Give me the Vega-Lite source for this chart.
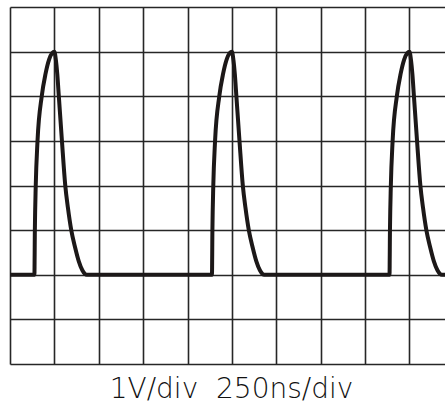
{
  "$schema": "https://vega.github.io/schema/vega-lite/v6.json",
  "width": 435,
  "height": 357,
  "autosize": {"type": "none"},
  "padding": {"left": 10, "top": 7, "right": 0, "bottom": 46},
  "background": "white",
  "title": {
    "text": "1V/div\u00a0\u00a0250ns/div",
    "orient": "bottom",
    "font": "DejaVu Sans",
    "fontWeight": 200,
    "fontSize": 28,
    "color": "#111111",
    "offset": 12,
    "dx": 4,
    "anchor": "middle"
  },
  "config": {"view": {"stroke": null}},
  "data": {
    "values": [
      {"t": 0, "v": 2},
      {"t": 0.55, "v": 2}, {"t": 0.56, "v": 3}, {"t": 0.58, "v": 4}, {"t": 0.62, "v": 5}, {"t": 0.715, "v": 6}, {"t": 0.8, "v": 6.5}, {"t": 0.88, "v": 6.82}, {"t": 0.95, "v": 6.97}, {"t": 1, "v": 7}, {"t": 1.035, "v": 6.8}, {"t": 1.065, "v": 6.5}, {"t": 1.1, "v": 6}, {"t": 1.17, "v": 5}, {"t": 1.245, "v": 4}, {"t": 1.305, "v": 3.5}, {"t": 1.38, "v": 3}, {"t": 1.47, "v": 2.6}, {"t": 1.55, "v": 2.3}, {"t": 1.63, "v": 2.1}, {"t": 1.73, "v": 2},
      {"t": 4.55, "v": 2}, {"t": 4.56, "v": 3}, {"t": 4.58, "v": 4}, {"t": 4.62, "v": 5}, {"t": 4.715, "v": 6}, {"t": 4.8, "v": 6.5}, {"t": 4.88, "v": 6.82}, {"t": 4.95, "v": 6.97}, {"t": 5, "v": 7}, {"t": 5.035, "v": 6.8}, {"t": 5.065, "v": 6.5}, {"t": 5.1, "v": 6}, {"t": 5.17, "v": 5}, {"t": 5.245, "v": 4}, {"t": 5.305, "v": 3.5}, {"t": 5.38, "v": 3}, {"t": 5.47, "v": 2.6}, {"t": 5.55, "v": 2.3}, {"t": 5.63, "v": 2.1}, {"t": 5.73, "v": 2},
      {"t": 8.55, "v": 2}, {"t": 8.56, "v": 3}, {"t": 8.58, "v": 4}, {"t": 8.62, "v": 5}, {"t": 8.715, "v": 6}, {"t": 8.8, "v": 6.5}, {"t": 8.88, "v": 6.82}, {"t": 8.95, "v": 6.97}, {"t": 9, "v": 7}, {"t": 9.035, "v": 6.8}, {"t": 9.065, "v": 6.5}, {"t": 9.1, "v": 6}, {"t": 9.17, "v": 5}, {"t": 9.245, "v": 4}, {"t": 9.305, "v": 3.5}, {"t": 9.38, "v": 3}, {"t": 9.47, "v": 2.6}, {"t": 9.55, "v": 2.3}, {"t": 9.63, "v": 2.1}, {"t": 9.73, "v": 2},
      {"t": 9.8, "v": 2}
    ]
  },
  "mark": {"type": "line", "interpolate": "monotone", "color": "#1c1818", "strokeWidth": 4, "strokeJoin": "round", "clip": true},
  "encoding": {
    "x": {
      "field": "t", "type": "quantitative",
      "scale": {"domain": [0, 9.8], "nice": false, "zero": false},
      "axis": {"values": [0,1,2,3,4,5,6,7,8,9], "grid": true, "gridColor": "#262626", "gridWidth": 1.6, "gridOpacity": 1, "labels": false, "ticks": false, "domain": false, "title": null}
    },
    "y": {
      "field": "v", "type": "quantitative",
      "scale": {"domain": [0, 8], "nice": false},
      "axis": {"values": [0,1,2,3,4,5,6,7,8], "grid": true, "gridColor": "#262626", "gridWidth": 1.6, "gridOpacity": 1, "labels": false, "ticks": false, "domain": false, "title": null}
    }
  }
}
